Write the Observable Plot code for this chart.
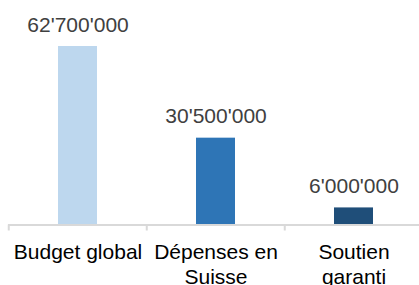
<!DOCTYPE html>
<html><head><meta charset="utf-8">
<script src="https://cdn.jsdelivr.net/npm/d3@7"></script>
<script src="https://cdn.jsdelivr.net/npm/@observablehq/plot@0.6"></script>
<style>body{margin:0;background:#fff;}</style>
</head><body><div id="chart"></div>
<script>
const categories = ["Budget global", "Dépenses en\nSuisse", "Soutien\ngaranti"];
const values = [62700000, 30500000, 6000000];
const valueLabels = ["62'700'000", "30'500'000", "6'000'000"];
const colors = ["#bdd7ee", "#2e75b6", "#1f4e79"];
const data = categories.map((c, i) => ({category: c, value: values[i], label: valueLabels[i]}));

const W = 419, H = 285, ML = 8, MR = -4.5;
const step = (W - ML - MR) / categories.length;
const chart = Plot.plot({
  width: W, height: H, marginLeft: ML, marginRight: MR, marginTop: 46, marginBottom: 60.5,
  style: {fontFamily: "'Liberation Sans', Arial, sans-serif", background: "#fff"},
  x: {domain: categories, paddingInner: 0.718, paddingOuter: 0.359, axis: null},
  y: {domain: [0, 62700000], axis: null},
  color: {domain: categories, range: colors},
  marks: [
    Plot.barY(data, {x: "category", y: "value", fill: "category"}),
    Plot.ruleY([0], {stroke: "#d9d9d9", strokeWidth: 2}),
    Plot.ruleX(categories, {x: d => d, y1: () => 0, y2: () => 0, dx: -step / 2, insetBottom: -6, stroke: "#d9d9d9", strokeWidth: 2}),
    Plot.text(data, {x: "category", y: "value", text: "label", lineAnchor: "bottom", dy: -15, fontSize: 21, fill: "#404040"}),
    Plot.text(data, {x: "category", y: () => 0, text: "category", lineAnchor: "top", dy: 16.6, fontSize: 21, lineHeight: 1.19, fill: "#000"})
  ]
});
document.getElementById("chart").append(chart);
</script>
</body></html>
